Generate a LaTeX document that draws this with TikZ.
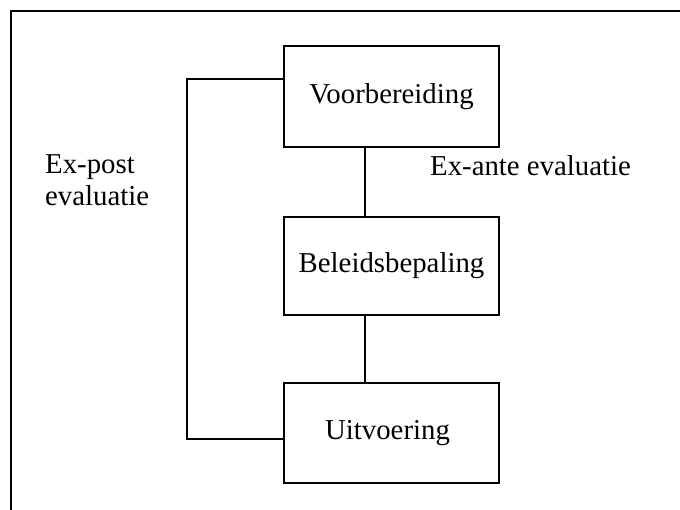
\documentclass[tikz,border=0pt]{standalone}
\usepackage{fontspec}
\setmainfont{Liberation Serif}
\begin{document}
\begin{tikzpicture}[x=1pt,y=-1pt,
  box/.style={draw,line width=1.6pt,minimum width=215pt,minimum height=100pt,inner sep=0pt,
    font=\fontsize{28.8}{33}\selectfont},
  lbl/.style={inner sep=0pt,font=\fontsize{28.8}{32}\selectfont,align=left},
  conn/.style={line width=1.3pt},
  frame/.style={line width=1.7pt}]
\useasboundingbox (0,0) rectangle (680,510);
% frame
\coordinate (ftl) at (11,11);
\coordinate (ftr) at (681,11);
\coordinate (fbl) at (11,511);
\draw[frame] (ftr) -- (ftl) -- (fbl);
% boxes
\node[box,minimum height=101pt] (v) at (391.5,96.5) {Voorbereiding};
\node[box,minimum height=98pt] (b) at (391.5,266) {Beleidsbepaling};
\node[box] (u) at (391.5,433) {\hspace*{-8pt}Uitvoering};
% vertical connectors
\coordinate (cx) at (365,0);
\draw[conn] (v.south -| cx) -- (b.north -| cx);
\draw[conn] (b.south -| cx) -- (u.north -| cx);
% left bracket
\coordinate (ytop) at (0,79);
\coordinate (ybot) at (0,439);
\coordinate (bx) at (187,0);
\draw[conn] (v.west |- ytop) -- (bx |- ytop) -- (bx |- ybot) -- (u.west |- ybot);
% labels
\node[lbl,anchor=base west] (expost) at (45,206) {Ex-post\\evaluatie};
\node[lbl,anchor=base west] (exante) at (430,176) {Ex-ante evaluatie};
\end{tikzpicture}
\end{document}
